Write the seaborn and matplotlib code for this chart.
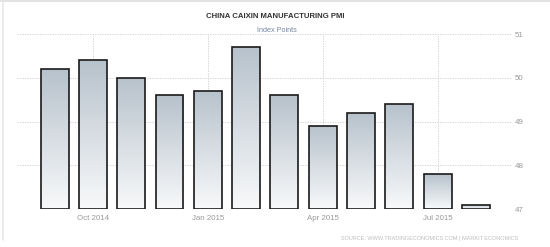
import numpy as np
import pandas as pd
import matplotlib
matplotlib.use("Agg")
import matplotlib.pyplot as plt
import seaborn as sns
from matplotlib.colors import LinearSegmentedColormap
from matplotlib.lines import Line2D

# ---- data ----
months = ["Sep 2014", "Oct 2014", "Nov 2014", "Dec 2014", "Jan 2015", "Feb 2015",
          "Mar 2015", "Apr 2015", "May 2015", "Jun 2015", "Jul 2015", "Aug 2015"]
pmi = [50.2, 50.4, 50.0, 49.6, 49.7, 50.7, 49.6, 48.9, 49.2, 49.4, 47.8, 47.1]
xtick_labels = ["Oct 2014", "Jan 2015", "Apr 2015", "Jul 2015"]
ytick_values = [47, 48, 49, 50, 51]
title = "CHINA CAIXIN MANUFACTURING PMI"
subtitle = "Index Points"
source = "SOURCE: WWW.TRADINGECONOMICS.COM | MARKIT ECONOMICS"

sns.set_style("white")
plt.rcParams["font.family"] = ["Liberation Sans", "DejaVu Sans"]

W, H = 550, 247
fig = plt.figure(figsize=(W / 100, H / 100), dpi=100)
ax = fig.add_axes([17 / W, 1 - 209 / H, (512 - 17) / W, (209 - 34) / H])

df = pd.DataFrame({"month": months, "pmi": pmi})
sns.barplot(data=df, x="month", y="pmi", ax=ax, width=0.73,
            color="white", edgecolor="#1a1a1a", linewidth=1.2, zorder=3)

base = 47
cmap = LinearSegmentedColormap.from_list("g", ["#f8f9fa", "#b7c2cc"])
grad = np.linspace(0, 1, 256).reshape(-1, 1)
for p in ax.patches:
    top = p.get_y() + p.get_height()
    p.set_y(base)
    p.set_height(top - base)
    p.set_facecolor("none")
    x0 = p.get_x()
    x1 = x0 + p.get_width()
    im = ax.imshow(grad, extent=[x0, x1, base, top], origin="lower",
                   aspect="auto", cmap=cmap, zorder=2)
    im.set_clip_path(p)

ax.set_xlim(-0.98, 11.94)
ax.set_ylim(47, 51)

pos = [months.index(m) for m in xtick_labels]
ax.set_xticks(pos)
ax.set_xticklabels(xtick_labels)
ax.set_yticks(ytick_values)
ax.yaxis.tick_right()
ax.tick_params(axis="both", length=0, labelsize=5.7, colors="#9a9a9a")
ax.tick_params(axis="y", pad=2)
ax.tick_params(axis="x", pad=4)
ax.set_xlabel("")
ax.set_ylabel("")
ax.grid(True, color="#cccccc", linestyle=(0, (1.5, 1.5)), linewidth=0.6, zorder=0)
ax.set_axisbelow(True)
for s in ax.spines.values():
    s.set_visible(False)

fig.text(275 / W, 1 - 17 / H, title, ha="center", va="center",
         fontsize=5.6, fontweight="bold", color="#333333")
fig.text(277 / W, 1 - 30 / H, subtitle, ha="center", va="center",
         fontsize=5.2, color="#7587a3")
fig.text(518 / W, 1 - 238 / H, source, ha="right", va="center",
         fontsize=4.0, color="#bdbdbd")

# light frame along the top and left edge
fig.lines.append(Line2D([0, 1], [1 - 1.5 / H, 1 - 1.5 / H], transform=fig.transFigure,
                        color="#e2e2e2", linewidth=1.4))
fig.lines.append(Line2D([2.5 / W, 2.5 / W], [1 - 1.5 / H, 1 - 240 / H], transform=fig.transFigure,
                        color="#e8e8e8", linewidth=1.2))

fig.savefig("out.png", dpi=100)
